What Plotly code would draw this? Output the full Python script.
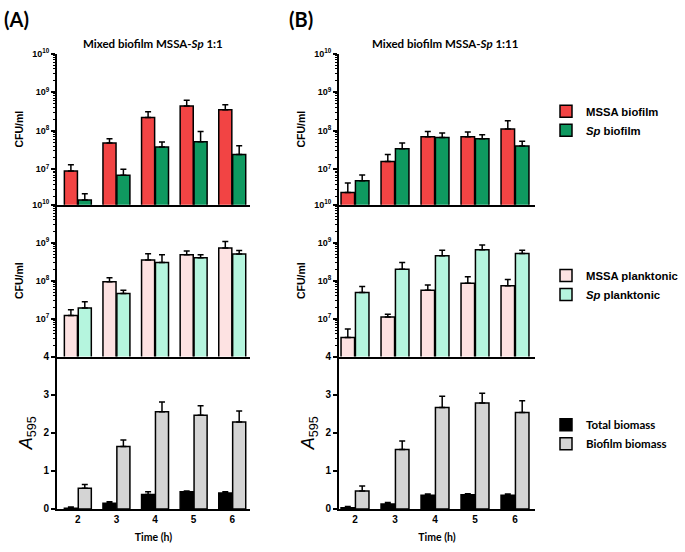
import plotly.graph_objects as go

times = ["2", "3", "4", "5", "6"]
time_labels = ["<b>2</b>", "<b>3</b>", "<b>4</b>", "<b>5</b>", "<b>6</b>"]
tick_labels_log = ["<b>10<sup>7</sup></b>", "<b>10<sup>8</sup></b>", "<b>10<sup>9</sup></b>", "<b>10<sup>10</sup></b>"]
tick_vals_log = [1e7, 1e8, 1e9, 1e10]
tick_vals_lin = [0, 1, 2, 3, 4]
tick_labels_lin = ["<b>0</b>", "<b>1</b>", "<b>2</b>", "<b>3</b>", "<b>4</b>"]

# Panel A (1:1)
a_mssa_bio = [9e6, 4.8e7, 2.2e8, 4.4e8, 3.5e8]
a_mssa_bio_top = [1.3e7, 6.2e7, 3.1e8, 6.2e8, 4.7e8]
a_sp_bio = [1.6e6, 7.0e6, 3.8e7, 5.2e7, 2.4e7]
a_sp_bio_top = [2.3e6, 1.0e7, 5.1e7, 9.6e7, 4.1e7]
a_mssa_pl = [1.2e7, 9.3e7, 3.5e8, 4.8e8, 7.3e8]
a_mssa_pl_top = [1.7e7, 1.2e8, 5.1e8, 6.0e8, 1.07e9]
a_sp_pl = [1.9e7, 4.6e7, 3.0e8, 4.0e8, 5.0e8]
a_sp_pl_top = [2.8e7, 5.6e7, 4.8e8, 4.8e8, 6.2e8]
a_total = [0.02, 0.15, 0.38, 0.45, 0.42]
a_total_top = [0.05, 0.19, 0.45, 0.47, 0.45]
a_biofilm = [0.54, 1.64, 2.55, 2.46, 2.28]
a_biofilm_top = [0.64, 1.81, 2.81, 2.71, 2.57]

# Panel B (1:11)
b_mssa_bio = [2.5e6, 1.6e7, 7.0e7, 7.0e7, 1.1e8]
b_mssa_bio_top = [4.4e6, 2.4e7, 9.6e7, 9.3e7, 1.8e8]
b_sp_bio = [5.0e6, 3.4e7, 6.7e7, 6.2e7, 4.0e7]
b_sp_bio_top = [7.1e6, 4.8e7, 8.7e7, 7.9e7, 5.3e7]
b_mssa_pl = [3.2e6, 1.1e7, 5.6e7, 8.5e7, 7.3e7]
b_mssa_pl_top = [5.3e6, 1.3e7, 7.7e7, 1.26e8, 1.07e8]
b_sp_pl = [4.9e7, 2.0e8, 4.5e8, 6.5e8, 5.2e8]
b_sp_pl_top = [7.0e7, 3.0e8, 6.3e8, 8.7e8, 6.3e8]
b_total = [0.03, 0.13, 0.36, 0.37, 0.36]
b_total_top = [0.06, 0.17, 0.39, 0.40, 0.39]
b_biofilm = [0.47, 1.56, 2.66, 2.78, 2.53]
b_biofilm_top = [0.60, 1.78, 2.96, 3.04, 2.84]

C_RED = "#F24444"
C_GREEN = "#0F9960"
C_PINK = "#FDE2E2"
C_MINT = "#B5F5DE"
C_BLACK = "#000000"
C_GREY = "#D4D4D4"

W, H = 685, 552
ARIAL = "Liberation Sans"
CAL = "Lato"

fig = go.Figure()


def add_bar(xa, ya, vals, tops, color, name, group, legend, show):
    fig.add_trace(go.Bar(
        x=times, y=vals, name=name, xaxis=xa, yaxis=ya,
        offsetgroup=group, legend=legend, showlegend=show,
        marker=dict(color=color, line=dict(color="black", width=1.5)),
        error_y=dict(type="data", symmetric=False,
                     array=[t - v for t, v in zip(tops, vals)],
                     arrayminus=[0] * len(vals),
                     color="black", thickness=1.5, width=3),
    ))


add_bar("x", "y", a_mssa_bio, a_mssa_bio_top, C_RED, "<b>MSSA biofilm</b>", "1", "legend", True)
add_bar("x", "y", a_sp_bio, a_sp_bio_top, C_GREEN, "<b><i>Sp</i> biofilm</b>", "2", "legend", True)
add_bar("x2", "y2", a_mssa_pl, a_mssa_pl_top, C_PINK, "<b>MSSA planktonic</b>", "1", "legend2", True)
add_bar("x2", "y2", a_sp_pl, a_sp_pl_top, C_MINT, "<b><i>Sp</i> planktonic</b>", "2", "legend2", True)
add_bar("x3", "y3", a_total, a_total_top, C_BLACK, "<b>Total biomass</b>", "1", "legend3", True)
add_bar("x3", "y3", a_biofilm, a_biofilm_top, C_GREY, "<b>Biofilm biomass</b>", "2", "legend3", True)
add_bar("x4", "y4", b_mssa_bio, b_mssa_bio_top, C_RED, "<b>MSSA biofilm</b>", "1", "legend", False)
add_bar("x4", "y4", b_sp_bio, b_sp_bio_top, C_GREEN, "<b><i>Sp</i> biofilm</b>", "2", "legend", False)
add_bar("x5", "y5", b_mssa_pl, b_mssa_pl_top, C_PINK, "<b>MSSA planktonic</b>", "1", "legend2", False)
add_bar("x5", "y5", b_sp_pl, b_sp_pl_top, C_MINT, "<b><i>Sp</i> planktonic</b>", "2", "legend2", False)
add_bar("x6", "y6", b_total, b_total_top, C_BLACK, "<b>Total biomass</b>", "1", "legend3", False)
add_bar("x6", "y6", b_biofilm, b_biofilm_top, C_GREY, "<b>Biofilm biomass</b>", "2", "legend3", False)


def px_x(a, b):
    return [a / W, b / W]


def px_y(top, bottom):
    return [1 - bottom / H, 1 - top / H]


col_dom = {"A": px_x(57, 250), "B": px_x(339, 535)}
col_rng = {"A": [-0.54, 4.46], "B": [-0.4, 4.5]}
row_dom = [px_y(47.7, 202.5), px_y(202.5, 358), px_y(358, 514)]

minor_vals = [k * 10 ** d for d in range(6, 10) for k in range(2, 10)]

axis_line = dict(showline=True, linecolor="black", linewidth=2, showgrid=False, zeroline=False)

layout = dict(
    width=W, height=H, margin=dict(l=0, r=0, t=0, b=0),
    paper_bgcolor="white", plot_bgcolor="white",
    barmode="group", bargap=0.28, bargroupgap=0.06,
)

names = [("A", 0), ("A", 1), ("A", 2), ("B", 0), ("B", 1), ("B", 2)]
for i, (col, row) in enumerate(names):
    idx = "" if i == 0 else str(i + 1)
    xa = dict(domain=col_dom[col], range=col_rng[col], anchor="y" + idx,
              type="category", **axis_line)
    if row < 2:
        xa.update(showticklabels=False, ticks="")
    else:
        xa.update(ticks="", tickmode="array", tickvals=times, ticktext=time_labels,
                  tickfont=dict(family=ARIAL, size=10, color="black"),
                  title=dict(text="<b>Time (h)</b>", font=dict(family=CAL, size=10.5, color="black"),
                             standoff=10))
    ya = dict(domain=row_dom[row], anchor="x" + idx, **axis_line,
              ticks="outside", ticklen=4, tickwidth=1.5, tickcolor="black")
    if row < 2:
        ya.update(type="log", range=[6.08, 10] if row == 0 else [6, 10],
                  tickmode="array", tickvals=tick_vals_log, ticktext=tick_labels_log,
                  tickfont=dict(family=ARIAL, size=9, color="black"),
                  minor=dict(tickvals=minor_vals, ticks="outside", ticklen=2.5,
                             tickwidth=1, tickcolor="black", showgrid=False),
                  title=dict(text="<b>CFU/ml</b>", font=dict(family=ARIAL, size=10.5, color="black"),
                             standoff=6))
    else:
        ya.update(type="linear", range=[0, 4], tickmode="array",
                  tickvals=tick_vals_lin, ticktext=tick_labels_lin,
                  tickfont=dict(family=ARIAL, size=10, color="black"),
                  title=dict(text="<i>A</i><sub>595</sub>", font=dict(family=ARIAL, size=18, color="black"),
                             standoff=6))
    layout["xaxis" + idx] = xa
    layout["yaxis" + idx] = ya

leg_common = dict(xanchor="left", yanchor="top", bgcolor="rgba(0,0,0,0)",
                  tracegroupgap=0, itemclick=False)
layout["legend"] = dict(x=546 / W, y=1 - 92 / H, font=dict(family=ARIAL, size=11.3, color="black"),
                        **leg_common)
layout["legend2"] = dict(x=546 / W, y=1 - 260 / H, font=dict(family=ARIAL, size=11.3, color="black"),
                         **leg_common)
layout["legend3"] = dict(x=546 / W, y=1 - 413 / H, font=dict(family=CAL, size=11.5, color="black"),
                         **leg_common)

layout["annotations"] = [
    dict(text="<b>(A)</b>", x=2 / W, y=1 - 12 / H, xref="paper", yref="paper", xanchor="left", yanchor="middle",
         showarrow=False, font=dict(family=CAL, size=20, color="black")),
    dict(text="<b>(B)</b>", x=287 / W, y=1 - 12 / H, xref="paper", yref="paper", xanchor="left", yanchor="middle",
         showarrow=False, font=dict(family=CAL, size=20, color="black")),
    dict(text="<b>Mixed biofilm MSSA-<i>Sp</i> 1:1</b>", x=153 / W, y=1 - 37 / H, xref="paper", yref="paper",
         xanchor="center", yanchor="middle", showarrow=False,
         font=dict(family=CAL, size=11.5, color="black")),
    dict(text="<b>Mixed biofilm MSSA-<i>Sp</i> 1:11</b>", x=445 / W, y=1 - 37 / H, xref="paper", yref="paper",
         xanchor="center", yanchor="middle", showarrow=False,
         font=dict(family=CAL, size=11.5, color="black")),
]

fig.update_layout(**layout)

post = (
    "document.documentElement.style.margin='0';"
    "document.body.style.margin='0';"
    "document.body.style.overflow='hidden';"
    "var gd=document.getElementById('{plot_id}');"
    "gd.style.position='fixed';gd.style.top='0px';gd.style.left='0px';"
)
fig.write_html("out.html", config={"displayModeBar": False}, post_script=post)
